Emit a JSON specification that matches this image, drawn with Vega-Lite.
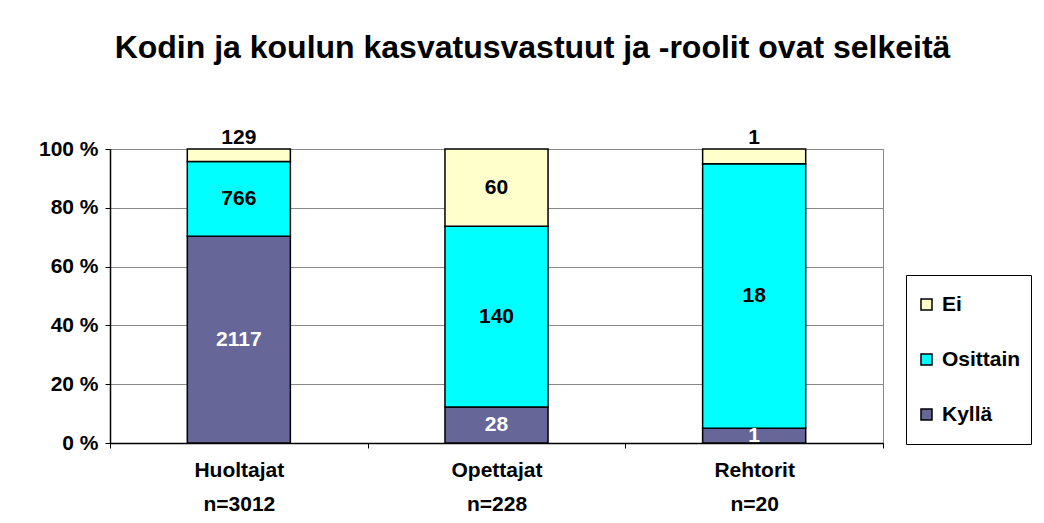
{
  "$schema": "https://vega.github.io/schema/vega-lite/v6.json",
  "width": 773,
  "height": 294,
  "autosize": {"type": "none"},
  "padding": {"left": 110, "top": 149, "right": 161, "bottom": 80},
  "background": "white",
  "title": {
    "text": "Kodin ja koulun kasvatusvastuut ja -roolit ovat selkeitä",
    "font": "Liberation Sans",
    "fontSize": 32,
    "fontWeight": "bold",
    "color": "black",
    "anchor": "middle",
    "frame": "group",
    "dx": 36,
    "offset": 62
  },
  "data": {
    "values": [
      {"group": "Huoltajat|n=3012", "cat": "Kyllä", "value": 2117, "order": 1},
      {"group": "Huoltajat|n=3012", "cat": "Osittain", "value": 766, "order": 2},
      {"group": "Huoltajat|n=3012", "cat": "Ei", "value": 129, "order": 3},
      {"group": "Opettajat|n=228", "cat": "Kyllä", "value": 28, "order": 1},
      {"group": "Opettajat|n=228", "cat": "Osittain", "value": 140, "order": 2},
      {"group": "Opettajat|n=228", "cat": "Ei", "value": 60, "order": 3},
      {"group": "Rehtorit|n=20", "cat": "Kyllä", "value": 1, "order": 1},
      {"group": "Rehtorit|n=20", "cat": "Osittain", "value": 18, "order": 2},
      {"group": "Rehtorit|n=20", "cat": "Ei", "value": 1, "order": 3}
    ]
  },
  "transform": [
    {"stack": "value", "groupby": ["group"], "sort": [{"field": "order", "order": "ascending"}], "offset": "normalize", "as": ["y0", "y1"]},
    {"calculate": "(datum.cat == 'Ei' && datum.y1 - datum.y0 < 0.06) ? 1.038 : (datum.y0 + datum.y1) / 2", "as": "labelY"}
  ],
  "encoding": {
    "x": {
      "field": "group",
      "type": "nominal",
      "sort": null,
      "scale": {"paddingInner": 0, "paddingOuter": 0},
      "axis": {
        "title": null,
        "labelAngle": 0,
        "labelExpr": "split(datum.label, '|')",
        "labelFont": "Liberation Sans",
        "labelFontSize": 21,
        "labelFontWeight": "bold",
        "labelColor": "black",
        "labelLineHeight": 34,
        "labelPadding": 11,
        "tickBand": "extent",
        "tickColor": "black",
        "tickSize": 5,
        "domainColor": "black",
        "domainWidth": 1.5,
        "grid": false
      }
    }
  },
  "layer": [
    {
      "mark": {"type": "bar", "width": {"band": 0.4}, "stroke": "black", "strokeWidth": 1.5},
      "encoding": {
        "y": {
          "field": "y0",
          "type": "quantitative",
          "scale": {"domain": [0, 1]},
          "axis": {
            "title": null,
            "values": [0, 0.2, 0.4, 0.6, 0.8, 1],
            "labelExpr": "round(datum.value * 100) + ' %'",
            "labelFont": "Liberation Sans",
            "labelFontSize": 21,
            "labelFontWeight": "bold",
            "labelColor": "black",
            "labelPadding": 7,
            "tickColor": "black",
            "tickSize": 5,
            "domainColor": "black",
            "domainWidth": 1.5,
            "grid": true,
            "gridColor": "#888888",
            "gridWidth": 1
          }
        },
        "y2": {"field": "y1"},
        "color": {
          "field": "cat",
          "type": "nominal",
          "scale": {"domain": ["Ei", "Osittain", "Kyllä"], "range": ["#FFFFCC", "#00FFFF", "#666699"]},
          "legend": {
            "title": null,
            "orient": "none",
            "legendX": 796,
            "legendY": 126,
            "padding": 10,
            "strokeColor": "black",
            "fillColor": "white",
            "symbolType": "square",
            "symbolSize": 121,
            "symbolStrokeColor": "black",
            "symbolStrokeWidth": 1.5,
            "symbolOpacity": 1,
            "labelFont": "Liberation Sans",
            "labelFontSize": 21,
            "labelFontWeight": "bold",
            "labelColor": "black",
            "labelOffset": 5,
            "clipHeight": 39,
            "rowPadding": 16
          }
        }
      }
    },
    {
      "mark": {"type": "text", "font": "Liberation Sans", "fontSize": 21, "fontWeight": "bold", "baseline": "middle"},
      "encoding": {
        "y": {"field": "labelY", "type": "quantitative"},
        "text": {"field": "value", "type": "quantitative"},
        "color": {"condition": {"test": "datum.cat == 'Kyllä'", "value": "white"}, "value": "black"}
      }
    }
  ],
  "config": {
    "view": {"stroke": "#888888", "strokeWidth": 1}
  }
}
